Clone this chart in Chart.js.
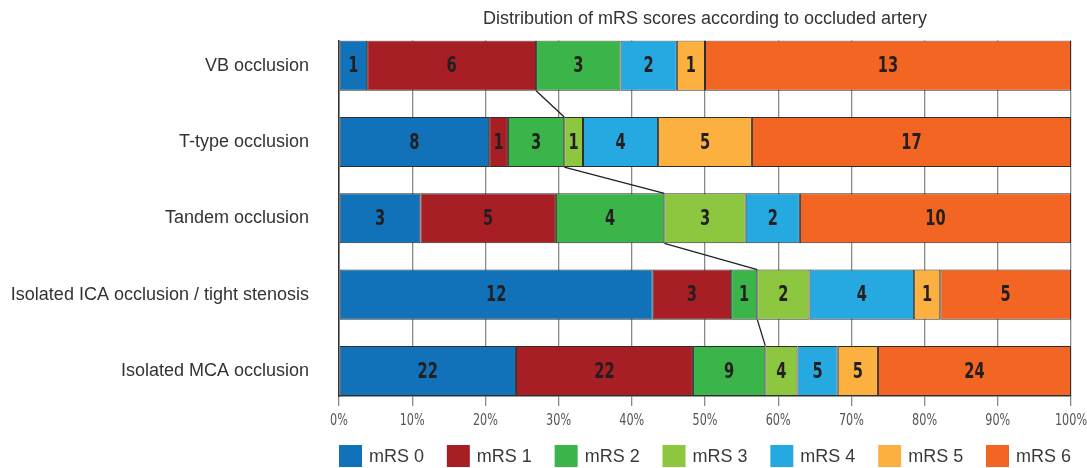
<!DOCTYPE html>
<html>
<head>
<meta charset="utf-8">
<script src="https://cdn.jsdelivr.net/npm/chart.js@4/dist/chart.umd.min.js"></script>
<style>
  html, body { margin: 0; padding: 0; background: #fff; }
  #wrap { width: 1087px; height: 468px; }
</style>
</head>
<body>
<div id="wrap"><canvas id="mrs_chart"></canvas></div>
<script>
//! Data
const categories = ['VB occlusion', 'T-type occlusion', 'Tandem occlusion',
    'Isolated ICA occlusion / tight stenosis', 'Isolated MCA occlusion'];
const seriesNames = ['mRS 0', 'mRS 1', 'mRS 2', 'mRS 3', 'mRS 4', 'mRS 5', 'mRS 6'];
const mrs0 = [1, 8, 3, 12, 22];
const mrs1 = [6, 1, 5, 3, 22];
const mrs2 = [3, 3, 4, 1, 9];
const mrs3 = [0, 1, 3, 2, 4];
const mrs4 = [2, 4, 2, 4, 5];
const mrs5 = [1, 5, 0, 1, 5];
const mrs6 = [13, 17, 10, 5, 24];
const xTicks = [0, 10, 20, 30, 40, 50, 60, 70, 80, 90, 100];
// how many mRS groups the connector covers at the bottom of bar i / top of bar i+1
const linkFrom = [2, 3, 3, 3];
const linkTo = [3, 3, 3, 3];

const counts = [mrs0, mrs1, mrs2, mrs3, mrs4, mrs5, mrs6];
const colors = ['#1172ba', '#a71e24', '#3bb44a', '#8dc63f', '#25a9e0', '#fbb040', '#f26522'];

const totals = categories.map((c, i) => counts.reduce((s, arr) => s + arr[i], 0));

//! Fonts
const narrow = "'DejaVu Sans Condensed', 'Liberation Sans Narrow', sans-serif";
const regular = "'Liberation Sans', Arial, sans-serif";

const barShare = 0.656;

// squeezed text, to look like the condensed face of the original
function narrowText(ctx, text, x, y, squeeze) {
    ctx.save();
    ctx.translate(x, y);
    ctx.scale(squeeze, 1);
    ctx.fillText(text, 0, 0);
    ctx.restore();
}

//! Plugins
const segmentLabels = {
    id: 'segmentLabels',
    afterDatasetsDraw(chart) {
        const ctx = chart.ctx;
        ctx.save();
        // connectors
        ctx.strokeStyle = '#231f20';
        ctx.lineWidth = 1.3;
        for (let i = 0; i < linkFrom.length; i++) {
            const a = chart.getDatasetMeta(linkFrom[i] - 1).data[i];
            const b = chart.getDatasetMeta(linkTo[i] - 1).data[i + 1];
            ctx.beginPath();
            ctx.moveTo(a.x, a.y + a.height / 2);
            ctx.lineTo(b.x, b.y - b.height / 2);
            ctx.stroke();
        }
        // counts
        ctx.font = "bold 22px " + narrow;
        ctx.fillStyle = '#231f20';
        ctx.textAlign = 'center';
        ctx.textBaseline = 'middle';
        chart.data.datasets.forEach((ds, k) => {
            chart.getDatasetMeta(k).data.forEach((el, i) => {
                const n = counts[k][i];
                if (!n) return;
                narrowText(ctx, String(n), (el.x + el.base) / 2, el.y + 1, 0.74);
            });
        });
        ctx.restore();
    }
};

const axisLabels = {
    id: 'axisLabels',
    afterDraw(chart) {
        const ctx = chart.ctx;
        const xs = chart.scales.x;
        ctx.save();
        ctx.font = "16px " + narrow;
        ctx.fillStyle = '#555';
        ctx.textAlign = 'center';
        ctx.textBaseline = 'alphabetic';
        xTicks.forEach(v => {
            narrowText(ctx, v + '%', xs.getPixelForValue(v), chart.chartArea.bottom + 29, 0.78);
        });
        ctx.restore();
    }
};

const bottomLegend = {
    id: 'bottomLegend',
    afterDraw(chart) {
        const ctx = chart.ctx;
        const area = chart.chartArea;
        const boxW = 23, boxH = 22, gapText = 7;
        ctx.save();
        ctx.font = "18px " + regular;
        const widths = seriesNames.map(s => boxW + gapText + ctx.measureText(s).width);
        const sum = widths.reduce((a, b) => a + b, 0);
        const gap = (area.right - area.left - sum) / (seriesNames.length - 1);
        const top = chart.height - 23;
        let x = area.left;
        seriesNames.forEach((s, k) => {
            ctx.fillStyle = colors[k];
            ctx.fillRect(x, top, boxW, boxH);
            ctx.fillStyle = '#3a3a3a';
            ctx.textAlign = 'left';
            ctx.textBaseline = 'middle';
            ctx.fillText(s, x + boxW + gapText, top + boxH / 2 + 1);
            x += widths[k] + gap;
        });
        ctx.restore();
    }
};

//! Chart
const ctx = document.getElementById('mrs_chart').getContext('2d');
const my_chart = new Chart(ctx, {
    type: 'bar',
    data: {
        datasets: counts.map((arr, k) => ({
            label: seriesNames[k],
            data: arr.map((n, i) => ({ x: n / totals[i] * 100, y: i })),
            backgroundColor: colors[k],
            borderColor: '#2e2e2e',
            borderWidth: 1,
            borderSkipped: false,
            barPercentage: barShare,
            categoryPercentage: 1
        }))
    },
    options: {
        indexAxis: 'y',
        responsive: true,
        maintainAspectRatio: false,
        animation: false,
        layout: { padding: { left: 0, right: 0, top: 0, bottom: 40 } },
        plugins: {
            legend: { display: false },
            tooltip: { enabled: false },
            title: {
                display: true,
                fullSize: false,
                text: 'Distribution of mRS scores according to occluded artery',
                color: '#333',
                font: { family: regular, size: 18, weight: 'normal' },
                padding: { top: 8, bottom: 11 }
            }
        },
        scales: {
            x: {
                type: 'linear',
                stacked: true,
                min: 0,
                max: 100,
                afterBuildTicks: scale => { scale.ticks = xTicks.map(v => ({ value: v })); },
                afterFit: scale => { scale.paddingRight = 16; scale.height = 32; },
                ticks: { display: false },
                grid: { color: '#8a8a8a', lineWidth: 1.3, tickLength: 10, tickColor: '#8a8a8a' },
                border: { color: '#333', width: 1.5 }
            },
            y: {
                type: 'linear',
                stacked: true,
                reverse: true,
                offset: false,
                min: -barShare / 2,
                max: categories.length - 1 + barShare / 2,
                afterBuildTicks: scale => { scale.ticks = categories.map((c, i) => ({ value: i })); },
                afterFit: scale => { scale.width = 339; },
                ticks: {
                    callback: v => categories[v],
                    color: '#333',
                    font: { family: regular, size: 18 },
                    padding: 22,
                    autoSkip: false
                },
                grid: { display: false },
                border: { color: '#333', width: 1.5 }
            }
        }
    },
    plugins: [segmentLabels, axisLabels, bottomLegend]
});
</script>
</body>
</html>
